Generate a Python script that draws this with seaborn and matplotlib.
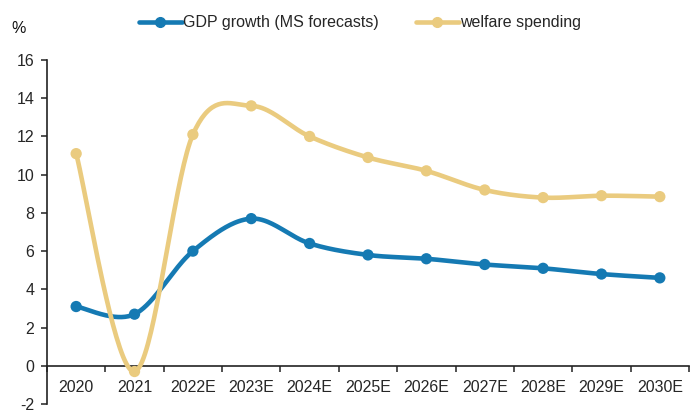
import numpy as np
import pandas as pd
import matplotlib
matplotlib.use("Agg")
import matplotlib.pyplot as plt
from matplotlib.lines import Line2D
from matplotlib.ticker import FixedLocator
import seaborn as sns

# ---- data ----
years = ["2020", "2021", "2022E", "2023E", "2024E", "2025E",
         "2026E", "2027E", "2028E", "2029E", "2030E"]
gdp_growth = [3.1, 2.7, 6.0, 7.7, 6.4, 5.8, 5.6, 5.3, 5.1, 4.8, 4.6]
welfare_spending = [11.1, -0.3, 12.1, 13.6, 12.0, 10.9, 10.2, 9.2, 8.8, 8.9, 8.85]

series_names = ["GDP growth (MS forecasts)", "welfare spending"]
series_colors = ["#157AB3", "#EACB7F"]
y_ticks = [-2, 0, 2, 4, 6, 8, 10, 12, 14, 16]

df = pd.DataFrame({
    "year": years * 2,
    "pos": list(range(len(years))) * 2,
    "value": gdp_growth + welfare_spending,
    "series": [series_names[0]] * len(years) + [series_names[1]] * len(years),
})


def smooth_line(xs, ys, steps=40):
    """Bezier smoothing through every point (Catmull-Rom style, tension 1/6)."""
    pts = np.column_stack([xs, ys]).astype(float)
    ext = np.vstack([pts[0], pts, pts[-1]])
    out = []
    t = np.linspace(0, 1, steps)[:, None]
    for i in range(len(pts) - 1):
        p0, p1, p2, p3 = ext[i], ext[i + 1], ext[i + 2], ext[i + 3]
        c1 = p1 + (p2 - p0) / 6.0
        c2 = p2 - (p3 - p1) / 6.0
        seg = ((1 - t) ** 3) * p1 + 3 * ((1 - t) ** 2) * t * c1 \
            + 3 * (1 - t) * t ** 2 * c2 + t ** 3 * p2
        out.append(seg if i == 0 else seg[1:])
    curve = np.vstack(out)
    return curve[:, 0], curve[:, 1]


sns.set_theme(style="white")
plt.rcParams["font.family"] = ["Liberation Sans", "DejaVu Sans"]

FS = 11.5

fig = plt.figure(figsize=(6.99, 4.13), dpi=100)
ax = fig.add_axes([0.0672, 0.0218, 0.9185, 0.8329])

for name, color in zip(series_names, series_colors):
    sub = df[df["series"] == name]
    sx, sy = smooth_line(sub["pos"].values, sub["value"].values)
    curve = pd.DataFrame({"x": sx, "y": sy})
    sns.lineplot(data=curve, x="x", y="y", color=color, linewidth=3.3,
                 sort=False, estimator=None, ax=ax, zorder=3)
    sns.scatterplot(data=sub, x="pos", y="value", color=color, s=66,
                    edgecolor="none", ax=ax, zorder=4)

ax.set_xlim(-0.5, len(years) - 0.5)
ax.set_ylim(-2, 16)
ax.set_xlabel("")
ax.set_ylabel("")

# axes lines
for side in ["top", "right"]:
    ax.spines[side].set_visible(False)
ax.spines["bottom"].set_position(("data", 0))
for side in ["left", "bottom"]:
    ax.spines[side].set_color("#222222")
    ax.spines[side].set_linewidth(1.2)

ax.set_yticks(y_ticks)
ax.set_yticklabels([str(v) for v in y_ticks])
ax.tick_params(axis="y", direction="out", length=4, width=1.1,
               color="#222222", labelsize=FS, pad=5, left=True)

ax.set_xticks(range(len(years)))
ax.set_xticklabels(years)
ax.xaxis.set_minor_locator(FixedLocator(np.arange(-0.5, len(years), 1.0)))
ax.tick_params(axis="x", which="major", length=0, labelsize=FS, pad=10,
               bottom=True)
ax.tick_params(axis="x", which="minor", direction="out", length=4, width=1.1,
               color="#222222", bottom=True)

fig.text(0.016, 0.93, "%", fontsize=FS, ha="left", va="center",
         color="#111111")

handles = [Line2D([], [], color=c, linewidth=3.3, marker="o", markersize=7)
           for c in series_colors]
fig.legend(handles, series_names, loc="center", bbox_to_anchor=(0.515, 0.945),
           ncol=2, frameon=False, fontsize=FS, handlelength=2.7,
           handletextpad=0.1, columnspacing=2.3)

fig.savefig("out.png", dpi=100)
